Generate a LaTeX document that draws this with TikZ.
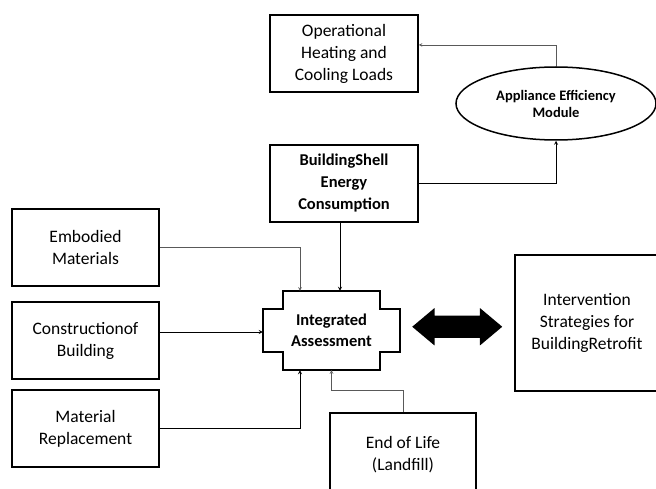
\documentclass[tikz,border=0pt]{standalone}
\usepackage{fontspec}
\setmainfont{Carlito}
\usetikzlibrary{shapes.geometric, shapes.arrows, arrows, positioning, calc}

\begin{document}
\begin{tikzpicture}[x=1pt, y=-1pt,
      every node/.style={text centered, align=center, font=\fontsize{17.5}{22}\selectfont},
        box/.style={draw, line width=1.5pt, rectangle, minimum width=148pt, minimum height=77pt},
        arrow/.style={line width=0.8pt,->,>=stealth},
        feed/.style={line width=0.6pt, black!65,->,>=stealth}
          ]
        \useasboundingbox (0,0) rectangle (656,489);
        \clip (0,0) rectangle (656,489);

        % Operational loads and appliance module
        \node (oper) [box] at (344,53.5) {Operational\\Heating and\\Cooling Loads};
        \node (appl) [ellipse, draw, line width=1.5pt, minimum width=200pt, minimum height=73pt, font=\bfseries\fontsize{14.5}{17}\selectfont] at (556,103.5) {Appliance Efficiency\\Module};

        % Building shell energy
        \node (shell) [box, font=\bfseries\fontsize{16.5}{22}\selectfont] at (344,183.5) {BuildingShell\\Energy\\Consumption};

        % Inputs on the left
        \node (embod) [box, minimum width=147pt] at (85.5,247.5) {Embodied\\Materials};
        \node (constr) [box, minimum width=147pt] at (85.5,340.5) {Constructionof\\Building};
        \node (replace) [box, minimum width=147pt] at (85.5,428.5) {Material\\Replacement};

        % Integrated assessment (cross shaped)
        \node (integ) [minimum width=97pt, minimum height=79pt] at (331.5,330.5) {};
        \node (integw) [minimum width=137pt, minimum height=43pt, font=\bfseries\fontsize{16.5}{21}\selectfont] at (331.5,330.5) {Integrated\\Assessment};
        \draw [line width=1.5pt] (integ.north west) -- (integ.north east) |- (integw.north east) -- (integw.south east) -| (integ.south east) -- (integ.south west) |- (integw.south west) -- (integw.north west) -| (integ.north west) -- cycle;

        % End of life
        \node (eol) [box, minimum width=146pt, minimum height=84pt] at (403,455) {End of Life\\(Landfill)};

        % Retrofit strategies
        \node (interv) [box, minimum width=144pt, minimum height=136pt] at (587,323) {Intervention\\Strategies for\\BuildingRetrofit};
        \node (link) [double arrow, fill=black, inner xsep=0pt, inner ysep=11pt, minimum height=90pt, minimum width=37pt, double arrow head extend=7.5pt, double arrow tip angle=80] at ($(integw.east)!0.5!(interv.west)$) {};

        % Arrows
        \draw [feed] (appl.north) |- ([yshift=8.5pt]oper.east);
        \draw [arrow] (shell.east) -| (appl.south);
        \draw [arrow] ([xshift=-4pt]shell.south) -- ([xshift=-4pt]shell.south |- integ.north);
        \draw [feed] (embod.east) -| ([xshift=-31.5pt]integ.north);
        \draw [arrow] ([yshift=8.5pt]constr.east) -- ([yshift=8.5pt]constr.east -| integw.west);
        \draw [arrow] (replace.east) -| ([xshift=-31.5pt]integ.south);
        \draw [feed] (eol.north) -- ++(0,-22) -| (integ.south);

          \end{tikzpicture}
\end{document}
